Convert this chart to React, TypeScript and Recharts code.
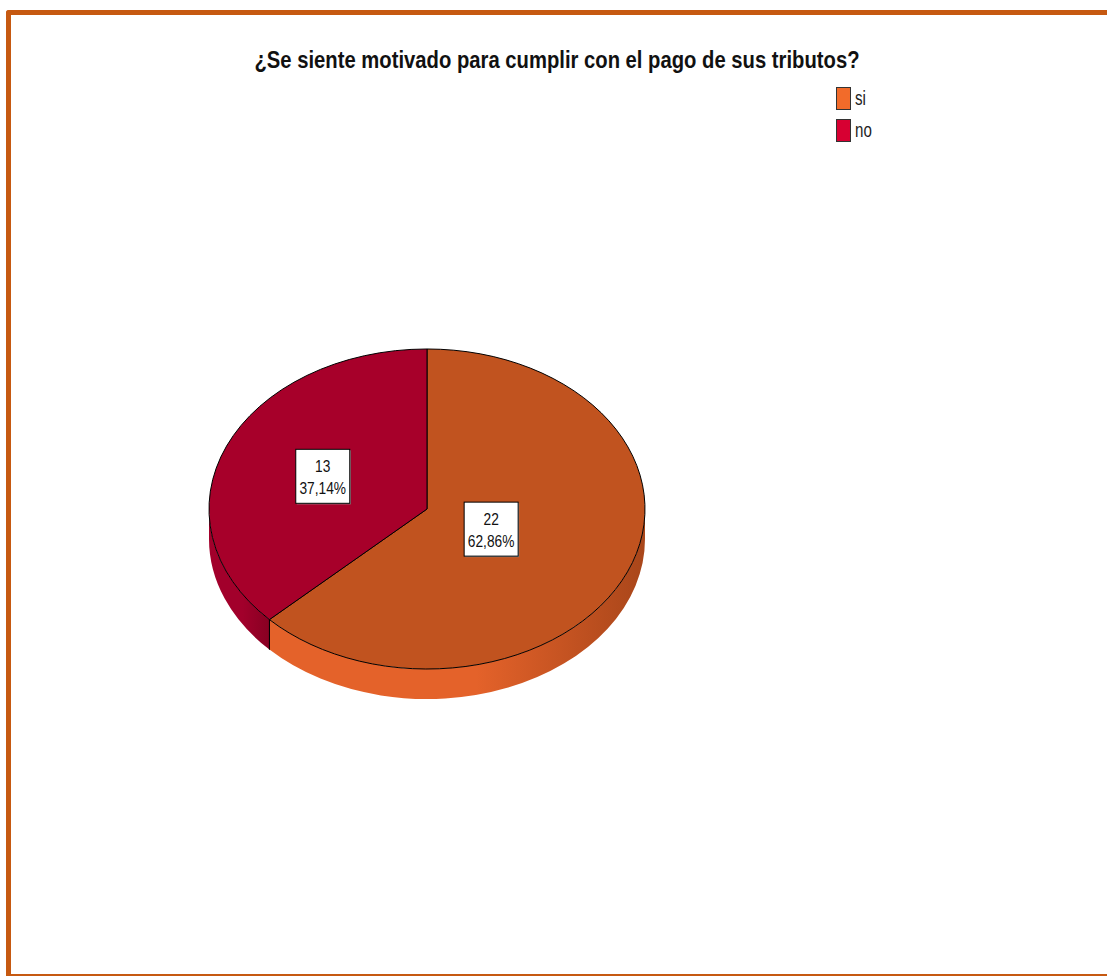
import React from "react";
import { PieChart, Pie, Cell, Legend } from "recharts";

const categories = ["si", "no"];
const counts = [22, 13];
const chartTitle = "¿Se siente motivado para cumplir con el pago de sus tributos?";

const chartData = categories.map((name, i) => ({ name, value: counts[i] }));

// colours / look
const TOP: Record<string, string> = { si: "#C1531F", no: "#A7002A" };
const WALL: Record<string, [string, string]> = {
  si: ["#E4622A", "#A9461A"],
  no: ["#A2002B", "#880022"],
};
const SWATCH: Record<string, string> = { si: "#F26B2A", no: "#D70032" };
const LABEL_R: Record<string, number> = { si: 0.32, no: 0.52 };
const TILT = 0.734;
const DEPTH = 30;
const FONT = '"Liberation Sans Narrow", "Arial Narrow", "Liberation Sans", Arial, sans-serif';

function Slice3D(props: any) {
  const { cx, cy, outerRadius, startAngle, endAngle } = props;
  const key = props.payload?.name ?? props.name;
  const rx = outerRadius;
  const ry = outerRadius * TILT;
  const pt = (a: number, dy = 0) => {
    const r = (a * Math.PI) / 180;
    return [cx + rx * Math.cos(r), cy - ry * Math.sin(r) + dy];
  };

  // visible side wall = lower half of the rim
  const lo = Math.min(startAngle, endAngle);
  const hi = Math.max(startAngle, endAngle);
  const walls: [number, number][] = [];
  for (let k = -2; k <= 1; k++) {
    const b0 = Math.max(lo, -180 + 360 * k);
    const b1 = Math.min(hi, 360 * k);
    if (b1 > b0) walls.push([b0, b1]);
  }

  const ps = pt(startAngle);
  const pe = pt(endAngle);
  const sweep = endAngle < startAngle ? 1 : 0;
  const large = Math.abs(endAngle - startAngle) > 180 ? 1 : 0;
  const gid = `wall-${key}`;

  return (
    <g>
      <defs>
        <linearGradient id={gid} x1="0" y1="0" x2="1" y2="0">
          <stop offset="0%" stopColor={WALL[key][0]} />
          <stop offset="55%" stopColor={WALL[key][0]} />
          <stop offset="100%" stopColor={WALL[key][1]} />
        </linearGradient>
      </defs>
      {walls.map(([b0, b1], i) => {
        const p0 = pt(b0);
        const p1 = pt(b1);
        const q1 = pt(b1, DEPTH);
        const q0 = pt(b0, DEPTH);
        return (
          <path
            key={i}
            d={`M${p0[0]},${p0[1]} A${rx},${ry} 0 0 0 ${p1[0]},${p1[1]} L${q1[0]},${q1[1]} A${rx},${ry} 0 0 1 ${q0[0]},${q0[1]} Z`}
            fill={`url(#${gid})`}
            stroke="none"
          />
        );
      })}
      {[startAngle, endAngle].map((a, i) =>
        Math.sin((a * Math.PI) / 180) < -0.01 ? (
          <line
            key={`e${i}`}
            x1={pt(a)[0]}
            y1={pt(a)[1]}
            x2={pt(a, DEPTH)[0]}
            y2={pt(a, DEPTH)[1]}
            stroke="#000"
            strokeWidth={1}
          />
        ) : null
      )}
      <path
        d={`M${cx},${cy} L${ps[0]},${ps[1]} A${rx},${ry} 0 ${large} ${sweep} ${pe[0]},${pe[1]} Z`}
        fill={TOP[key]}
        stroke="#000"
        strokeWidth={1}
        strokeLinejoin="round"
      />
    </g>
  );
}

function renderLabel(props: any) {
  const { cx, cy, midAngle, outerRadius, value, percent } = props;
  const key = props.payload?.name ?? props.name;
  const f = LABEL_R[key] ?? 0.45;
  const r = (midAngle * Math.PI) / 180;
  const x = cx + f * outerRadius * Math.cos(r);
  const y = cy - f * outerRadius * TILT * Math.sin(r);
  const pct = (percent * 100).toFixed(2).replace(".", ",") + "%";
  const w = 54;
  const h = 54;
  return (
    <g>
      <rect x={x - w / 2 + 1} y={y - h / 2 + 1} width={w} height={h} fill="#9a9a9a" />
      <rect x={x - w / 2} y={y - h / 2} width={w} height={h} fill="#fff" stroke="#000" strokeWidth={1} />
      <g transform={`translate(${x},${y - h / 2}) scale(0.86,1)`}>
        <text x={0} y={23} textAnchor="middle" fontFamily={FONT} fontSize={16} fill="#111">
          {value}
        </text>
        <text x={0} y={45} textAnchor="middle" fontFamily={FONT} fontSize={16} fill="#111">
          {pct}
        </text>
      </g>
    </g>
  );
}

function renderLegend(props: any) {
  const items = [...(props.payload || [])].sort(
    (a: any, b: any) => categories.indexOf(a.value) - categories.indexOf(b.value)
  );
  return (
    <div style={{ fontFamily: FONT }}>
      {items.map((it: any) => (
        <div key={it.value} style={{ display: "flex", alignItems: "center", height: 32 }}>
          <div
            style={{
              width: 15,
              height: 23,
              boxSizing: "border-box",
              border: "1px solid #333",
              background: SWATCH[it.value],
            }}
          />
          <span
            style={{
              marginLeft: 4,
              fontSize: 21,
              color: "#222",
              display: "inline-block",
              transform: "scaleX(0.72)",
              transformOrigin: "left center",
            }}
          >
            {it.value}
          </span>
        </div>
      ))}
    </div>
  );
}

export default function App() {
  return (
    <div
      style={{
        position: "absolute",
        left: 0,
        top: 0,
        width: 1107,
        height: 977,
        overflow: "hidden",
        background: "#fff",
      }}
    >
      {/* frame */}
      <div
        style={{
          position: "absolute",
          left: 6,
          top: 10,
          width: 1140,
          height: 966,
          boxSizing: "border-box",
          borderLeft: "5px solid #C65911",
          borderTop: "5px solid #C65911",
          borderBottom: "2px solid #C65911",
          borderTopLeftRadius: 3,
        }}
      />
      <svg style={{ position: "absolute", left: 0, top: 0 }} width={1107} height={100}>
        <text
          x={557}
          y={68}
          textAnchor="middle"
          fontFamily={FONT}
          fontWeight="bold"
          fontSize={24}
          textLength={605}
          lengthAdjust="spacingAndGlyphs"
          fill="#111"
        >
          {chartTitle}
        </text>
      </svg>
      <div style={{ position: "absolute", left: 0, top: 0 }}>
        <PieChart width={1107} height={977} margin={{ top: 0, right: 0, bottom: 0, left: 0 }}>
          <Pie
            data={chartData}
            dataKey="value"
            nameKey="name"
            cx={427}
            cy={509}
            outerRadius={218}
            startAngle={90}
            endAngle={-270}
            stroke="none"
            shape={Slice3D}
            label={renderLabel}
            labelLine={false}
            isAnimationActive={false}
          >
            {chartData.map((d) => (
              <Cell key={d.name} fill={TOP[d.name]} />
            ))}
          </Pie>
          <Legend
            layout="vertical"
            verticalAlign="top"
            align="right"
            content={renderLegend}
            wrapperStyle={{ left: 836, top: 82, width: 60 }}
          />
        </PieChart>
      </div>
    </div>
  );
}
